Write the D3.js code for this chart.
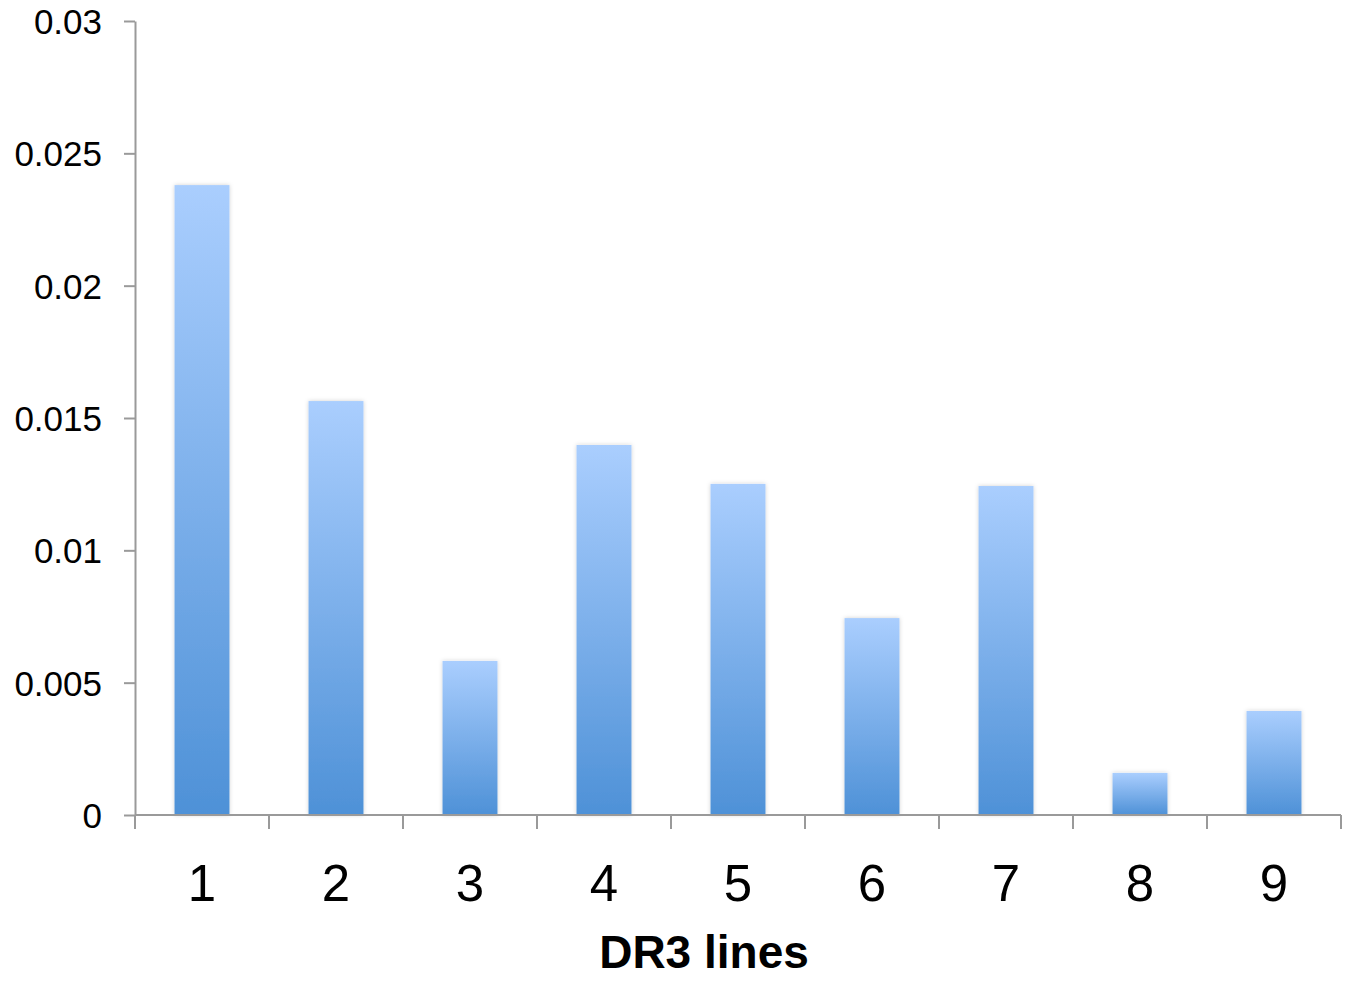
<!DOCTYPE html>
<html>
<head>
<meta charset="utf-8">
<script src="https://cdn.jsdelivr.net/npm/d3@7"></script>
<style>
  body { margin: 0; background: #fff; }
  svg { display: block; font-family: "Liberation Sans", Arial, sans-serif; }
</style>
</head>
<body>
<svg></svg>
<script>
// Categories and values
let categories = ['1', '2', '3', '4', '5', '6', '7', '8', '9'];
let values = [0.0238, 0.01564, 0.00582, 0.01398, 0.01251, 0.00744, 0.01243, 0.00159, 0.00393];
let yTicks = [0, 0.005, 0.01, 0.015, 0.02, 0.025, 0.03];
let xTitle = 'DR3 lines';

let width = 1349;
let height = 983;
let plotLeft = 135;
let plotRight = 1341;
let plotTop = 21;
let plotBottom = 815;

let svg = d3.select('svg')
    .attr('width', width)
    .attr('height', height);

// Vertical gradient used for every bar
let defs = svg.append('defs');
let grad = defs.append('linearGradient')
    .attr('id', 'barGrad')
    .attr('x1', 0).attr('y1', 0)
    .attr('x2', 0).attr('y2', 1);
grad.append('stop').attr('offset', '0%').attr('stop-color', '#aacefe');
grad.append('stop').attr('offset', '100%').attr('stop-color', '#4e91d7');

let shadow = defs.append('filter')
    .attr('id', 'shadow')
    .attr('x', '-20%').attr('y', '-20%')
    .attr('width', '140%').attr('height', '140%');
shadow.append('feDropShadow')
    .attr('dx', 0).attr('dy', 0)
    .attr('stdDeviation', 2)
    .attr('flood-color', '#000')
    .attr('flood-opacity', 0.18);

let xScale = d3.scaleBand()
    .domain(categories)
    .range([plotLeft, plotRight])
    .paddingInner(0.59)
    .paddingOuter(0.295);

let yScale = d3.scaleLinear()
    .domain([0, 0.03])
    .range([plotBottom, plotTop]);

// Bars
svg.selectAll('rect.bar')
    .data(values)
    .enter()
    .append('rect')
    .attr('class', 'bar')
    .attr('x', (d, i) => xScale(categories[i]))
    .attr('width', xScale.bandwidth())
    .attr('y', (d) => yScale(d))
    .attr('height', (d) => plotBottom - yScale(d))
    .attr('fill', 'url(#barGrad)')
    .attr('filter', 'url(#shadow)');

// Y axis
let yAxis = d3.axisLeft(yScale)
    .tickValues(yTicks)
    .tickFormat((d) => d === 0 ? '0' : String(+d.toFixed(3)))
    .tickSizeInner(11)
    .tickSizeOuter(0)
    .tickPadding(22);

let yG = svg.append('g')
    .attr('transform', `translate(${plotLeft}, 0)`)
    .call(yAxis);
yG.select('.domain').attr('stroke', '#9a9a9a').attr('stroke-width', 2);
yG.selectAll('.tick line').attr('stroke', '#9a9a9a').attr('stroke-width', 2);
yG.selectAll('.tick text')
    .attr('fill', '#000')
    .attr('dy', '0.36em')
    .style('font-size', '35px')
    .style('font-family', '"Liberation Sans", Arial, sans-serif');

// X axis: ticks at band boundaries, labels centred in bands
let xG = svg.append('g')
    .attr('transform', `translate(0, ${plotBottom})`);
xG.append('line')
    .attr('x1', plotLeft).attr('x2', plotRight)
    .attr('y1', 0).attr('y2', 0)
    .attr('stroke', '#9a9a9a').attr('stroke-width', 2);

let step = xScale.step();
let boundaries = categories.map((c) => xScale(c) - step * xScale.paddingInner() / 2);
boundaries.push(plotRight);
boundaries[0] = plotLeft;
xG.selectAll('line.xtick')
    .data(boundaries)
    .enter()
    .append('line')
    .attr('class', 'xtick')
    .attr('x1', (d) => d).attr('x2', (d) => d)
    .attr('y1', 0).attr('y2', 14)
    .attr('stroke', '#9a9a9a').attr('stroke-width', 2);

xG.selectAll('text.xlabel')
    .data(categories)
    .enter()
    .append('text')
    .attr('class', 'xlabel')
    .attr('x', (d) => xScale(d) + xScale.bandwidth() / 2)
    .attr('y', 86)
    .attr('text-anchor', 'middle')
    .style('font-size', '51px')
    .text((d) => d);

// Axis title
svg.append('text')
    .attr('x', 704)
    .attr('y', 968)
    .attr('text-anchor', 'middle')
    .style('font-size', '46px')
    .style('font-weight', 'bold')
    .text(xTitle);
</script>
</body>
</html>
